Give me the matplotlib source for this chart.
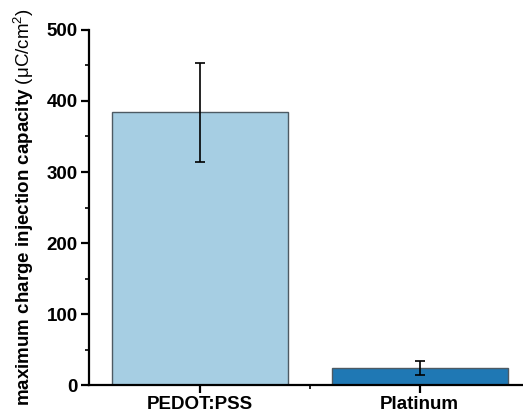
import numpy as np
import matplotlib
matplotlib.use('Agg')
from matplotlib import pyplot as plt
from matplotlib.ticker import MultipleLocator, FixedLocator

plt.rcParams['font.family'] = ['Liberation Sans', 'DejaVu Sans']
plt.rcParams['mathtext.fontset'] = 'custom'
plt.rcParams['mathtext.rm'] = 'Liberation Sans'
plt.rcParams['mathtext.bf'] = 'Liberation Sans:bold'
plt.rcParams['mathtext.it'] = 'Liberation Sans:italic'

# data
categories = ['PEDOT:PSS', 'Platinum']
values = [384, 24]
errors = [70, 10]
colors = ['#a6cee3', '#1f78b4']

fig = plt.figure(figsize=(5.23, 4.12), dpi=100)
ax = fig.add_axes([0.170, 0.0655, 0.830, 0.8617])

x = np.arange(len(categories))
ax.bar(x, values, width=0.8, color=colors, edgecolor='#4d5a63', linewidth=1.0, zorder=2)
ax.errorbar(x, values, yerr=errors, fmt='none', ecolor='black', elinewidth=1.2,
            capsize=3.5, capthick=1.2, zorder=3)

ax.set_xlim(-0.505, 1.47)
ax.set_ylim(0, 500)
ax.set_xticks(x)
ax.set_xticklabels(categories, fontsize=13.5, fontweight='bold')
ax.xaxis.set_minor_locator(FixedLocator([0.5]))
ax.yaxis.set_major_locator(MultipleLocator(100))
ax.yaxis.set_minor_locator(MultipleLocator(50))
for lab in ax.get_yticklabels():
    lab.set_fontsize(13.5)
    lab.set_fontweight('bold')

ax.spines['top'].set_visible(False)
ax.spines['right'].set_visible(False)
ax.spines['left'].set_linewidth(1.6)
ax.spines['bottom'].set_linewidth(1.6)
ax.tick_params(which='major', direction='out', length=6, width=1.6, pad=2)
ax.tick_params(which='minor', direction='out', length=3, width=1.2)

ax.set_ylabel(r'$\mathbf{maximum\ charge\ injection\ capacity}$ (μC/cm$^2$)',
              fontsize=13.5, labelpad=8)

fig.savefig('out.png', dpi=100)
